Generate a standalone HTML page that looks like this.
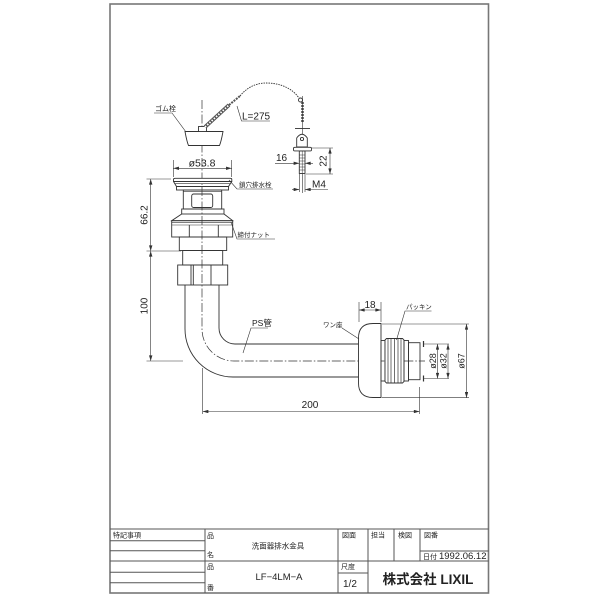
<!DOCTYPE html>
<html><head><meta charset="utf-8"><style>
html,body{margin:0;padding:0;background:#fff;}
svg{display:block;}
text{font-family:"Liberation Sans","Noto Sans CJK JP",sans-serif;fill:#222;}
</style></head><body>
<svg width="600" height="600" viewBox="0 0 600 600" xmlns="http://www.w3.org/2000/svg">
<defs>
<marker id="a" viewBox="0 0 10 6" refX="10" refY="3" markerWidth="6" markerHeight="3.4" orient="auto-start-reverse" markerUnits="userSpaceOnUse"><path d="M0,0 L10,3 L0,6 z" fill="#333"/></marker>
</defs>

<!-- border -->
<rect x="110" y="4" width="378.5" height="589" fill="none" stroke="#777" stroke-width="1.6"/>

<g fill="none" stroke="#333" stroke-width="0.9">
<!-- centerline -->
<path d="M202,100 L202,329 A32,32 0 0 0 234,361 L425,361" stroke-width="0.7" stroke-dasharray="9 2 1.5 2"/>

<!-- rubber plug -->
<path d="M185,131.5 L223,131.5 C222,137 221,142 219.5,145.5 L188.5,145.5 C187,142 186,137 185,131.5 Z" fill="#fff"/>
<rect x="198.5" y="126.5" width="8" height="5" fill="#fff"/>
<!-- chain rod -->
<line x1="205" y1="127" x2="229" y2="105" stroke="#555" stroke-width="3.8"/>
<line x1="205" y1="127" x2="229" y2="105" stroke="#fff" stroke-width="1.8" stroke-dasharray="1.5 1.5"/>
<line x1="229" y1="105" x2="240" y2="96" stroke="#555" stroke-width="2" stroke-dasharray="2 1"/>
<path d="M240,96 C248,86 258,83 266,83 C280,83 292,88 299,98" stroke-width="0.9" stroke-dasharray="1.5 1"/>
<circle cx="300.5" cy="100" r="2"/>
<line x1="302.5" y1="102" x2="302.5" y2="122" stroke="#555" stroke-width="2.6" stroke-dasharray="2 1"/>
<line x1="302.5" y1="96" x2="302.5" y2="193" stroke-width="0.6"/>
<line x1="295" y1="128.5" x2="310" y2="128.5"/>
<path d="M296.7,147 L296.7,138 Q302,130.5 307.3,138 L307.3,147 Z" fill="#fff"/>
<circle cx="302" cy="139" r="1.6"/>
<rect x="293.5" y="147.3" width="18" height="3.6" rx="1.2" fill="#fff"/>
<rect x="299.3" y="151" width="5.7" height="22.5" fill="#fff"/>
<path d="M299.3,155 H305 M299.3,158 H305 M299.3,161 H305 M299.3,164 H305 M299.3,167 H305 M299.3,170 H305" stroke-width="0.5"/>
<line x1="302.2" y1="151" x2="302.2" y2="173.5" stroke-width="0.5"/>

<!-- dims small part -->
<line x1="312" y1="148" x2="333" y2="148" stroke-width="0.6"/>
<line x1="306" y1="174" x2="333" y2="174" stroke-width="0.6"/>
<line x1="330" y1="148" x2="330" y2="174" stroke-width="0.6" marker-start="url(#a)" marker-end="url(#a)"/>
<line x1="275" y1="163.3" x2="299.3" y2="163.3" stroke-width="0.6" marker-end="url(#a)"/>
<line x1="313" y1="163.3" x2="305" y2="163.3" stroke-width="0.6" marker-end="url(#a)"/>
<line x1="299.3" y1="174" x2="299.3" y2="192" stroke-width="0.6"/>
<line x1="305" y1="174" x2="305" y2="192" stroke-width="0.6"/>
<line x1="292" y1="189.5" x2="299.3" y2="189.5" stroke-width="0.6" marker-end="url(#a)"/>
<line x1="328" y1="189.5" x2="305" y2="189.5" stroke-width="0.6" marker-end="url(#a)"/>

<!-- leaders top -->
<path d="M154,113 H172 L186,132" stroke-width="0.6"/>
<path d="M237,106 L241.5,121 H270" stroke-width="0.6"/>

<!-- 53.8 -->
<line x1="173.3" y1="160" x2="173.3" y2="177" stroke-width="0.6"/>
<line x1="231.7" y1="160" x2="231.7" y2="177" stroke-width="0.6"/>
<line x1="173.3" y1="168.3" x2="231.7" y2="168.3" stroke-width="0.6" marker-start="url(#a)" marker-end="url(#a)"/>

<!-- fitting -->
<path d="M173.5,181.5 L173.5,179.5 Q173.5,178.3 175,178.3 L230.5,178.3 Q231.8,178.3 231.8,179.5 L231.8,181.5 Z" fill="#fff"/>
<path d="M173.5,181.5 L176.5,186.5 L228.5,186.5 L231.8,181.5"/>
<line x1="174.5" y1="183.7" x2="230.5" y2="183.7" stroke-width="0.6"/>
<rect x="176.5" y="186.5" width="52" height="3.5"/>
<line x1="183.3" y1="191.7" x2="221.7" y2="191.7" stroke-width="0.6"/>
<rect x="183.3" y="190" width="38.4" height="19"/>
<rect x="191.7" y="194" width="21" height="13.5" rx="2"/>
<rect x="181.7" y="209" width="42.3" height="5"/>
<path d="M181.7,214 L171.7,220.7 L232.7,220.7 L224,214"/>
<rect x="171.7" y="220.7" width="61" height="16.3"/>
<line x1="171.7" y1="222.7" x2="232.7" y2="222.7" stroke-width="0.6"/>
<line x1="171.7" y1="225" x2="232.7" y2="225" stroke-width="0.6"/>
<line x1="189.3" y1="225" x2="189.3" y2="237"/>
<line x1="218.3" y1="225" x2="218.3" y2="237"/>
<rect x="179.3" y="237" width="47.4" height="13.5"/>
<rect x="182.7" y="250.5" width="40" height="14.5"/>
<rect x="177.7" y="265" width="50" height="20"/>
<line x1="191" y1="265" x2="191" y2="285"/>
<line x1="193.3" y1="265" x2="193.3" y2="285"/>
<line x1="211" y1="265" x2="211" y2="285"/>

<!-- pipe -->
<path d="M185,285 L185,329 A48,48 0 0 0 233,377 L360,377"/>
<path d="M219,285 L219,328 A16,16 0 0 0 235,344 L360,344"/>

<!-- wan-za flange -->
<path d="M381,323.5 L373,323.5 Q358.5,323.5 358.5,338 L358.5,383 Q358.5,397.5 373,397.5 L381,397.5 Z" fill="#fff"/>
<rect x="381" y="340.5" width="4" height="40.5"/>
<path d="M385,340 L386.5,338.5 L402.5,338.5 L404,340 L404,381.5 L402.5,383 L386.5,383 L385,381.5 Z" fill="#fff"/>
<path d="M388,338.5 V383 M391,338.5 V383 M394.5,338.5 V383 M398,338.5 V383 M401,338.5 V383" stroke-width="0.7"/>
<rect x="404" y="340.5" width="4.5" height="40.5"/>
<rect x="408.5" y="342.7" width="11.5" height="37"/>

<!-- right dims -->
<line x1="423" y1="344" x2="449" y2="344" stroke-width="0.6"/>
<line x1="423" y1="378.5" x2="449" y2="378.5" stroke-width="0.6"/>
<line x1="423.5" y1="341" x2="423.5" y2="347" stroke-width="1.2"/>
<line x1="423.5" y1="375.5" x2="423.5" y2="381.5" stroke-width="1.2"/>
<line x1="437.5" y1="344" x2="437.5" y2="378.5" stroke-width="0.6" marker-start="url(#a)" marker-end="url(#a)"/>
<line x1="448" y1="344" x2="448" y2="378.5" stroke-width="0.6" marker-start="url(#a)" marker-end="url(#a)"/>
<line x1="382" y1="324" x2="469" y2="324" stroke-width="0.6"/>
<line x1="382" y1="397.7" x2="469" y2="397.7" stroke-width="0.6"/>
<line x1="466.5" y1="324" x2="466.5" y2="397.7" stroke-width="0.6" marker-start="url(#a)" marker-end="url(#a)"/>
<!-- 18 -->
<line x1="359" y1="302" x2="359" y2="322" stroke-width="0.6"/>
<line x1="381" y1="302" x2="381" y2="322" stroke-width="0.6"/>
<line x1="359" y1="310" x2="381" y2="310" stroke-width="0.6" marker-start="url(#a)" marker-end="url(#a)"/>
<!-- 200 -->
<line x1="202.7" y1="368" x2="202.7" y2="414" stroke-width="0.6"/>
<line x1="419.5" y1="387" x2="419.5" y2="414" stroke-width="0.6"/>
<line x1="202.7" y1="411.5" x2="419.5" y2="411.5" stroke-width="0.6" marker-start="url(#a)" marker-end="url(#a)"/>
<!-- 66.2 / 100 -->
<line x1="146.5" y1="179" x2="171" y2="179" stroke-width="0.6"/>
<line x1="146.5" y1="251" x2="181" y2="251" stroke-width="0.6"/>
<line x1="146.5" y1="361" x2="183" y2="361" stroke-width="0.6"/>
<line x1="150.7" y1="179" x2="150.7" y2="251" stroke-width="0.6" marker-start="url(#a)" marker-end="url(#a)"/>
<line x1="150.7" y1="251" x2="150.7" y2="361" stroke-width="0.6" marker-start="url(#a)" marker-end="url(#a)"/>

<!-- leaders -->
<path d="M229,180 L237,189 H273" stroke-width="0.6"/>
<path d="M231,222 L237,239 H275" stroke-width="0.6"/>
<path d="M243,353 L251,328 H268" stroke-width="0.6"/>
<path d="M342,328 L359,339" stroke-width="0.6"/>
<path d="M396.5,340 L405,311 H431.5" stroke-width="0.6"/>
</g>

<!-- texts drawing -->
<g font-size="10">
<text x="155" y="111" font-size="7">ゴム栓</text>
<text x="242" y="119.5">L=275</text>
<text x="202" y="166.5" text-anchor="middle" font-size="10.5">ø53.8</text>
<text x="276" y="161">16</text>
<text x="312" y="187.5">M4</text>
<text transform="translate(326.5,161) rotate(-90)" text-anchor="middle">22</text>
<text x="239" y="187" font-size="6.5">鎖穴排水栓</text>
<text x="237.5" y="237" font-size="6.5">締付ナット</text>
<text transform="translate(147.5,215) rotate(-90)" text-anchor="middle">66.2</text>
<text transform="translate(147.5,306) rotate(-90)" text-anchor="middle">100</text>
<text x="252" y="326" font-size="8.5">PS管</text>
<text x="323" y="327" font-size="6.5">ワン座</text>
<text x="370" y="308" text-anchor="middle">18</text>
<text x="406" y="309" font-size="6.5">パッキン</text>
<text x="310" y="408" text-anchor="middle">200</text>
<text transform="translate(436,361) rotate(-90)" text-anchor="middle" font-size="9">ø28</text>
<text transform="translate(446.5,361) rotate(-90)" text-anchor="middle" font-size="9">ø32</text>
<text transform="translate(464.5,361) rotate(-90)" text-anchor="middle" font-size="9">ø67</text>
</g>

<!-- title block -->
<g fill="none" stroke="#555" stroke-width="1">
<line x1="110" y1="529" x2="488.5" y2="529"/>
<line x1="110" y1="561" x2="488.5" y2="561"/>
<line x1="205" y1="529" x2="205" y2="593"/>
<line x1="110" y1="540.7" x2="205" y2="540.7"/>
<line x1="110" y1="550.7" x2="205" y2="550.7"/>
<line x1="110" y1="572.3" x2="205" y2="572.3"/>
<line x1="110" y1="582.7" x2="205" y2="582.7"/>
<line x1="338" y1="529" x2="338" y2="593"/>
<line x1="368" y1="529" x2="368" y2="593"/>
<line x1="394" y1="529" x2="394" y2="561"/>
<line x1="420" y1="529" x2="420" y2="561"/>
<line x1="420" y1="551" x2="488.5" y2="551"/>
<line x1="338" y1="573" x2="368" y2="573"/>
</g>
<g font-size="7">
<text x="113" y="537.5">特記事項</text>
<text x="207" y="538">品</text>
<text x="207" y="557">名</text>
<text x="207" y="569">品</text>
<text x="207" y="590">番</text>
<text x="278" y="548.5" text-anchor="middle" font-size="7.5">洗面器排水金具</text>
<text x="279" y="580" text-anchor="middle" font-size="9.5">LF−4LM−A</text>
<text x="342" y="537.5">図面</text>
<text x="371" y="537.5">担当</text>
<text x="398" y="537.5">検図</text>
<text x="424" y="537.5">図番</text>
<text x="423" y="559">日付 <tspan font-size="9.5">1992.06.12</tspan></text>
<text x="341" y="569">尺度</text>
<text x="343" y="587" font-size="10">1/2</text>
<text x="428" y="584" text-anchor="middle" font-size="13.5" font-weight="bold">株式会社 LIXIL</text>
</g>
</svg>
</body></html>
